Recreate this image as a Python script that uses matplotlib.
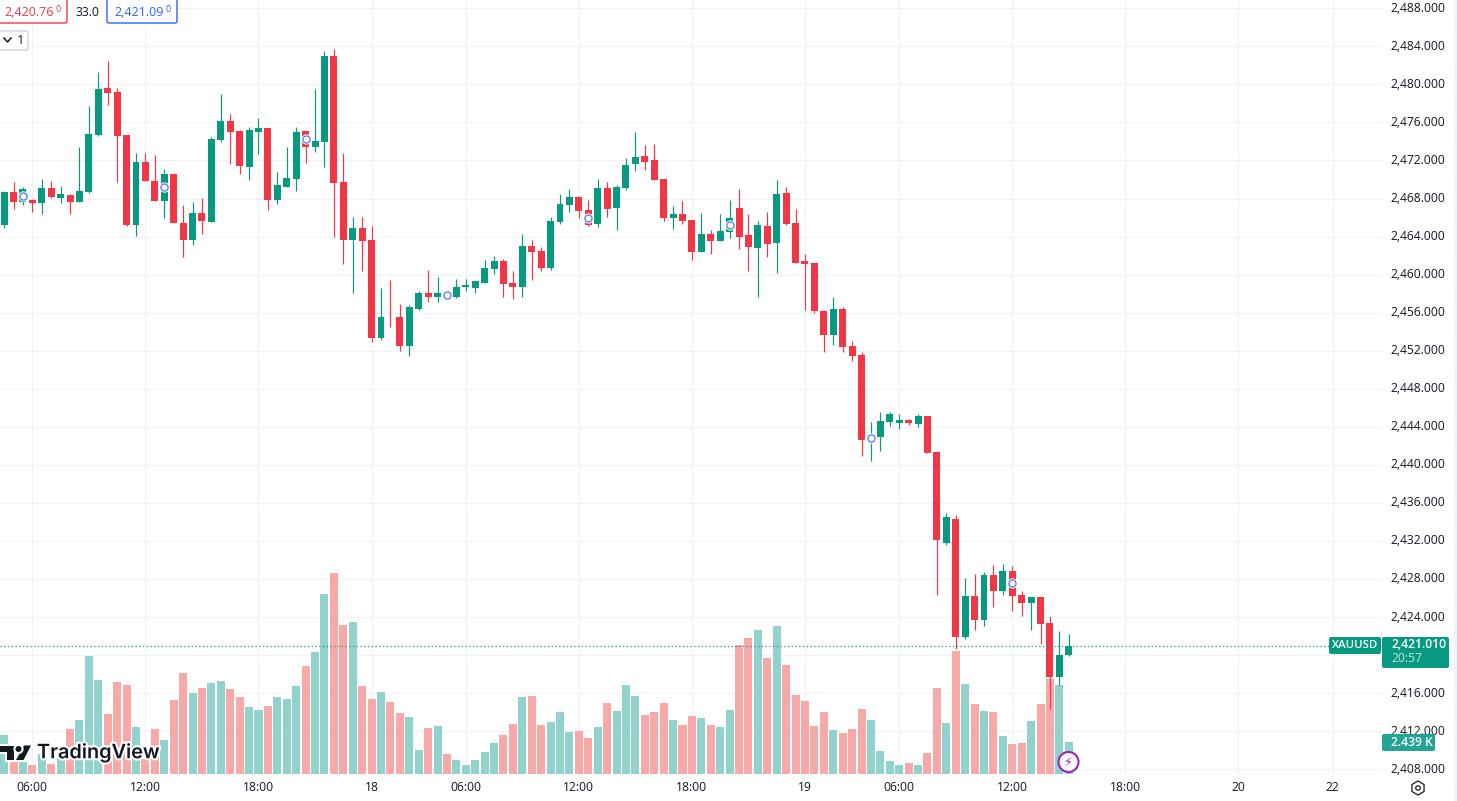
import matplotlib
matplotlib.use("Agg")
import matplotlib.pyplot as plt
import matplotlib.patheffects as pe
from matplotlib.patches import Circle, FancyBboxPatch, Polygon, Rectangle, RegularPolygon
from matplotlib.transforms import ScaledTranslation

plt.rcParams["font.family"] = ["Open Sans", "DejaVu Sans"]

# 30 minute candles, bar number is the x position
opens = [2465.2, 2468.7, 2467.6, 2467.85, 2467.5, 2469.1, 2468.05, 2468.4, 2467.6, 2468.7,
         2474.7, 2479.6, 2479.2, 2474.7, 2465.2, 2471.8, 2469.85, 2467.75, 2470.6, 2465.4,
         2463.65, 2466.5, 2465.55, 2474.15, 2476.15, 2475.1, 2471.3, 2475.0, 2475.4, 2467.85,
         2469.2, 2470.05, 2475.1, 2473.4, 2473.95, 2483.0, 2469.75, 2463.6, 2464.9, 2463.6,
         2453.3, 2455.6, 2455.6, 2452.45, 2456.35, 2458.05, 2457.7, 2458.0, 2457.6, 2458.75,
         2458.65, 2459.1, 2460.55, 2461.4, 2459.1, 2458.75, 2463.0, 2462.45, 2460.75, 2465.5,
         2467.3, 2468.15, 2466.75, 2465.3, 2469.1, 2467.0, 2469.1, 2471.6, 2472.45, 2472.05,
         2470.05, 2465.95, 2466.35, 2465.7, 2462.4, 2464.25, 2463.5, 2464.45, 2467.0, 2464.15,
         2462.8, 2465.1, 2463.3, 2468.55, 2465.4, 2461.4, 2461.2, 2456.15, 2453.65, 2456.35,
         2452.5, 2451.55, 2442.6, 2442.9, 2444.5, 2444.4, 2444.7, 2444.3, 2445.1, 2441.4,
         2431.8, 2434.35, 2421.95, 2426.25, 2423.7, 2428.45, 2426.75, 2428.9, 2426.35, 2425.5,
         2426.15, 2423.4, 2417.7, 2420.05]
highs = [2468.8, 2469.7, 2469.2, 2467.9, 2470.1, 2469.85, 2469.3, 2468.5, 2473.4, 2477.7,
         2481.3, 2482.5, 2479.6, 2474.7, 2472.8, 2472.8, 2472.6, 2471.1, 2470.7, 2467.3,
         2467.6, 2468.05, 2474.5, 2479.0, 2476.9, 2475.2, 2475.5, 2476.5, 2475.4, 2470.8,
         2473.4, 2475.5, 2475.1, 2479.5, 2483.5, 2483.7, 2472.8, 2466.05, 2466.05, 2465.1,
         2458.55, 2459.4, 2456.9, 2456.8, 2458.25, 2460.45, 2459.8, 2458.2, 2459.5, 2459.5,
         2459.3, 2461.5, 2461.95, 2461.6, 2460.35, 2464.25, 2463.6, 2462.9, 2466.05, 2468.45,
         2469.0, 2468.25, 2467.8, 2470.05, 2469.7, 2469.4, 2472.25, 2475.0, 2473.6, 2473.7,
         2470.05, 2467.2, 2467.7, 2465.7, 2466.45, 2464.65, 2466.35, 2467.8, 2469.0, 2466.35,
         2465.6, 2466.55, 2469.95, 2469.2, 2466.9, 2462.15, 2461.2, 2456.25, 2457.65, 2456.6,
         2453.0, 2451.85, 2444.5, 2445.55, 2445.55, 2445.35, 2444.8, 2445.35, 2445.1, 2441.5,
         2435.0, 2434.75, 2428.15, 2428.55, 2428.75, 2429.5, 2429.6, 2429.4, 2426.75, 2426.15,
         2426.15, 2424.15, 2422.55, 2422.25]
lows = [2464.9, 2466.9, 2467.3, 2466.6, 2466.4, 2468.05, 2467.5, 2466.4, 2467.6, 2468.6,
        2474.6, 2477.8, 2469.7, 2465.1, 2464.1, 2469.85, 2467.75, 2466.0, 2465.4, 2461.9,
        2463.1, 2464.3, 2465.5, 2473.95, 2471.6, 2470.6, 2469.95, 2472.7, 2466.8, 2467.4,
        2469.2, 2468.8, 2471.75, 2472.9, 2471.3, 2463.95, 2461.1, 2458.05, 2460.35, 2452.9,
        2453.1, 2454.45, 2451.95, 2451.5, 2456.25, 2457.1, 2457.1, 2457.5, 2457.5, 2458.25,
        2458.05, 2459.1, 2460.05, 2457.7, 2457.4, 2457.7, 2459.4, 2460.35, 2460.45, 2465.3,
        2466.55, 2465.95, 2465.1, 2465.0, 2466.05, 2464.65, 2468.9, 2470.9, 2471.0, 2469.95,
        2465.6, 2464.75, 2465.3, 2461.5, 2462.4, 2462.15, 2463.5, 2463.85, 2462.65, 2460.35,
        2457.65, 2461.85, 2460.15, 2465.2, 2461.2, 2456.25, 2455.95, 2451.85, 2452.6, 2451.85,
        2450.9, 2440.9, 2440.4, 2441.45, 2444.05, 2443.75, 2444.15, 2443.95, 2441.25, 2426.35,
        2431.6, 2420.65, 2421.7, 2422.65, 2423.1, 2425.1, 2426.35, 2424.65, 2424.15, 2422.65,
        2421.2, 2414.35, 2416.9, 2419.95]
closes = [2468.7, 2467.6, 2469.0, 2467.5, 2469.1, 2468.15, 2468.5, 2467.6, 2468.8, 2474.8,
          2479.5, 2479.1, 2474.6, 2465.2, 2471.8, 2469.85, 2467.75, 2470.6, 2465.4, 2463.65,
          2466.5, 2465.6, 2474.25, 2476.15, 2475.0, 2471.4, 2475.2, 2475.4, 2467.85, 2469.4,
          2470.15, 2475.0, 2473.4, 2474.05, 2483.0, 2469.65, 2463.65, 2464.9, 2463.5, 2453.3,
          2455.6, 2455.5, 2452.55, 2456.55, 2458.05, 2457.7, 2458.05, 2457.7, 2458.75, 2458.9,
          2459.3, 2460.65, 2461.4, 2459.0, 2458.75, 2463.0, 2462.35, 2460.75, 2465.6, 2467.4,
          2468.15, 2466.65, 2465.2, 2469.1, 2466.9, 2469.2, 2471.5, 2472.35, 2471.8, 2469.95,
          2465.95, 2466.35, 2465.6, 2462.4, 2464.25, 2463.5, 2464.55, 2465.95, 2463.95, 2462.9,
          2465.2, 2463.2, 2468.45, 2465.3, 2461.2, 2461.1, 2456.15, 2453.65, 2456.35, 2452.35,
          2451.45, 2442.6, 2443.1, 2444.6, 2445.35, 2444.7, 2444.4, 2445.1, 2441.25, 2432.15,
          2434.55, 2421.95, 2426.25, 2423.7, 2428.45, 2426.75, 2428.9, 2426.25, 2425.5, 2426.15,
          2423.3, 2417.7, 2420.05, 2421.01]
# volume in thousands
volumes = [2.97, 0.92, 0.92, 0.67, 1.51, 0.74, 1.5, 3.44, 4.13, 9.05,
           7.21, 4.59, 7.05, 6.82, 3.59, 1.15, 3.44, 2.59, 5.67, 7.74,
           6.21, 6.59, 6.97, 7.13, 6.51, 5.9, 5.13, 4.9, 5.21, 5.9,
           5.74, 6.74, 8.28, 9.36, 13.82, 15.44, 11.44, 11.67, 6.74, 5.74,
           6.28, 5.51, 4.67, 4.36, 1.82, 3.51, 3.67, 1.51, 1.05, 0.67,
           1.05, 1.67, 2.36, 2.97, 3.82, 5.9, 5.97, 3.74, 3.97, 4.74,
           3.21, 3.28, 2.74, 3.59, 5.44, 4.82, 6.82, 5.97, 4.51, 4.74,
           5.44, 4.13, 3.74, 4.44, 4.28, 3.74, 3.59, 4.9, 9.9, 10.44,
           11.05, 8.9, 11.36, 8.36, 6.05, 5.59, 3.67, 4.74, 3.36, 3.13,
           3.44, 4.97, 4.13, 1.74, 0.97, 0.67, 0.82, 0.67, 1.59, 6.59,
           3.9, 9.44, 6.9, 5.36, 4.82, 4.74, 2.9, 2.28, 2.36, 4.05,
           5.36, 7.28, 6.82, 2.439]

time_ticks = [3, 15, 27, 39, 49, 61, 73, 85, 95, 107, 119, 131, 141]
time_labels = ["06:00", "12:00", "18:00", "18", "06:00", "12:00", "18:00", "19",
               "06:00", "12:00", "18:00", "20", "22"]
price_ticks = list(range(2408, 2489, 4))
marker_bars = [2, 17, 32, 47, 62, 77, 92, 107]

UP = "#089981"
DOWN = "#F23645"
GRID = "#F0F2F5"
TEXT = "#131722"
W, H = 1457, 801

fig = plt.figure(figsize=(W / 100, H / 100), dpi=100, facecolor="white")
pos = [0, 1 - 774 / H, 1382 / W, 774 / H]

# grid goes on the price axes at the back, volume next, candles on top
ax_grid = fig.add_axes(pos, zorder=0)
ax_vol = fig.add_axes(pos, zorder=1)
ax = fig.add_axes(pos, zorder=2)
ax_vol.patch.set_visible(False)
ax.patch.set_visible(False)

xlim = (-0.435, 146.24)
ylim = (2407.52, 2488.866)

ax_grid.set_xlim(xlim)
ax_grid.set_ylim(ylim)
ax_grid.set_xticks(time_ticks)
ax_grid.set_yticks(price_ticks)
ax_grid.set_xticklabels([])
ax_grid.set_yticklabels([])
ax_grid.tick_params(length=0)
ax_grid.grid(True, color=GRID, lw=0.9)
for s in ax_grid.spines.values():
    s.set_visible(False)

bars = list(range(len(opens)))
colors = [UP if c >= o else DOWN for o, c in zip(opens, closes)]
vol_colors = ["#92D2CC" if c >= o else "#F7A9A7" for o, c in zip(opens, closes)]

ax_vol.bar(bars, volumes, width=0.85, color=vol_colors, linewidth=0)
ax_vol.set_xlim(xlim)
ax_vol.set_ylim(0, 774 / 13.0)
ax_vol.axis("off")

ax.vlines(bars, lows, highs, colors=colors, linewidth=0.85, zorder=3)
ax.bar(bars, [abs(c - o) for o, c in zip(opens, closes)],
       bottom=[min(o, c) for o, c in zip(opens, closes)],
       width=0.74, color=colors, linewidth=0, zorder=4)
ax.axhline(closes[-1], color=UP, lw=0.9, ls=(0, (1, 2)), zorder=5)

# small blue session circles
my = [(opens[i] + closes[i]) / 2 for i in marker_bars]
ax.scatter(marker_bars, my, s=55, color="white", linewidth=0, zorder=6)
ax.scatter(marker_bars, my, s=26, facecolor="white", edgecolor="#5B82F0", linewidth=1.0, zorder=7)

ax.set_xlim(xlim)
ax.set_ylim(ylim)
ax.set_xticks(time_ticks)
ax.set_xticklabels(time_labels, fontsize=8.7, color=TEXT)
ax.yaxis.tick_right()
ax.set_yticks(price_ticks)
ax.set_yticklabels(["" if p == 2420 else f"{p:,.3f}" for p in price_ticks], fontsize=8.7, color=TEXT)
ax.tick_params(axis="x", length=0, pad=5)
ax.tick_params(axis="y", length=0, pad=6)
for s in ax.spines.values():
    s.set_visible(False)
up_a_bit = ScaledTranslation(0, 1.2 / 72, fig.dpi_scale_trans)
for lab in ax.get_yticklabels():
    lab.set_transform(lab.get_transform() + up_a_bit)


# the rest is chart furniture placed in pixels, y counted from the top
def box(x0, y0, x1, y1, fc, ec="none", r=2, lw=1):
    fig.add_artist(FancyBboxPatch((x0 + r, H - y1 + r), x1 - x0 - 2 * r, y1 - y0 - 2 * r,
                                  boxstyle=f"round,pad={r},rounding_size={r}",
                                  fc=fc, ec=ec, lw=lw, transform=None, zorder=10))


def label(x, y, s, size=8.7, color=TEXT, ha="left", **kw):
    fig.text(x / W, 1 - y / H, s, fontsize=size, color=color, ha=ha, va="center", zorder=11, **kw)


box(-6, -5, 67, 23, "white", ec=DOWN)
label(4, 12, "2,420.76", size=9, color=DOWN)
label(55.5, 9, "0", size=6.5, color=DOWN)
label(76, 12, "33.0")
box(107, -5, 177, 23, "white", ec="#2962FF")
label(114, 12, "2,421.09", size=9, color="#2962FF")
label(165.5, 9, "0", size=6.5, color="#2962FF")
box(-6, 31, 28, 50, "white", ec="#D1D4DC")
fig.add_artist(plt.Line2D([4, 7.5, 11], [H - 38, H - 42, H - 38], color=TEXT, lw=1.1, transform=None, zorder=11))
label(17, 40.5, "1", size=9.5)

# price labels on the right
box(1329, 637, 1381, 654, UP)
label(1355, 645.5, "XAUUSD", size=8.2, color="white", ha="center", fontweight="semibold")
box(1382, 637, 1449, 668, UP)
label(1391, 645, "2,421.010", color="white", fontweight="semibold")
label(1391, 659, "20:57", color="#BFE5DF")
box(1382, 734, 1435, 751, "#22A594")
label(1391, 742.5, "2.439 K", size=8.7, color="white", fontweight="semibold")
fig.add_artist(Rectangle((1454, 0), 3, H, fc="#F0F3FA", ec="none", transform=None, zorder=9))

# settings icon
fig.add_artist(RegularPolygon((1418, H - 788), 6, radius=7, fc="white", ec=TEXT, lw=0.9, transform=None, zorder=11))
fig.add_artist(Circle((1418, H - 788), 2.2, fc="white", ec=TEXT, lw=0.9, transform=None, zorder=12))

# lightning badge
fig.add_artist(Circle((1068.5, H - 762), 10, fc="white", ec="#9C27B0", lw=1.5, transform=None, zorder=11))
fig.text(1068.5 / W, 1 - 762 / H, "\u26a1", fontsize=9, color="#9C27B0", ha="center", va="center",
         family="DejaVu Sans", zorder=12)

# TradingView watermark
halo = [pe.withStroke(linewidth=3, foreground="white")]
logo = "#131722"
for pts in ([(-1, 745.5), (13.5, 745.5), (13.5, 760), (6.5, 760), (6.5, 752), (-1, 752)],
            [(24, 745.5), (31, 745.5), (23.5, 760), (16, 760)]):
    fig.add_artist(Polygon([(x, H - y) for x, y in pts], fc=logo, ec="none", transform=None, zorder=11,
                           path_effects=halo))
fig.add_artist(Circle((18.5, H - 749), 3, fc=logo, ec="none", transform=None, zorder=11, path_effects=halo))
fig.text(37 / W, 1 - 753 / H, "TradingView", fontsize=14.3, color=logo, fontweight="semibold", family="Inter",
         ha="left", va="center", zorder=11, path_effects=halo)

fig.savefig("out.png", dpi=100)
